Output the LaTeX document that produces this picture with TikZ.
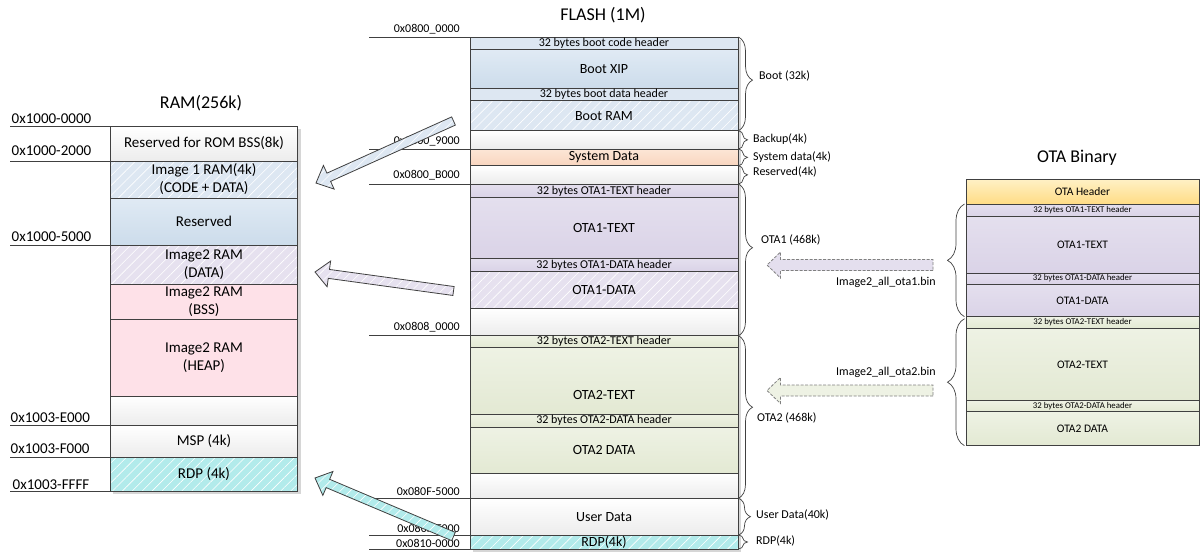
\documentclass[tikz,border=0pt]{standalone}
\usepackage{fontspec}
\setmainfont{Carlito}
\usetikzlibrary{calc,patterns.meta,decorations.pathreplacing}

\definecolor{edge}{HTML}{404040}
\definecolor{grayB}{HTML}{ECECEC}
\definecolor{blueL}{HTML}{DDE7F2}
\definecolor{blueA}{HTML}{E0EAF4}
\definecolor{blueB}{HTML}{CCDCEB}
\definecolor{lavA}{HTML}{E4DFEE}
\definecolor{lavB}{HTML}{DAD3E7}
\definecolor{lavL}{HTML}{E6E1EF}
\definecolor{greA}{HTML}{EEF2E4}
\definecolor{greB}{HTML}{E3E9D3}
\definecolor{pinkF}{HTML}{FEE1E8}
\definecolor{cyanF}{HTML}{B2EBEB}
\definecolor{peachA}{HTML}{FCE6D6}
\definecolor{peachB}{HTML}{F9D5BF}
\definecolor{yelA}{HTML}{FFF1C6}
\definecolor{yelB}{HTML}{FFDC85}

% one memory cell: name, x, y (top), width, height, fill style, text
\newcommand\cell[7]{\node[cell,#6,minimum width=#4pt,minimum height=#5pt] (#1) at (#2,#3) {#7};}
% block arrow: style, tail, tip, half shaft width, half head width, head length
\newcommand\blockarrow[6]{%
  \coordinate (#2-hb) at ($(#3)!#6!(#2)$);
  \path[#1] ($(#2)!#4!90:(#3)$) -- ($(#2-hb)!#4!90:(#3)$) -- ($(#2-hb)!#5!90:(#3)$)
    -- (#3) -- ($(#2-hb)!#5!-90:(#3)$) -- ($(#2-hb)!#4!-90:(#3)$)
    -- ($(#2)!#4!-90:(#3)$) -- cycle;}

\tikzset{
  cell/.style={draw=edge, line width=0.8pt, inner sep=0pt, outer sep=0pt,
    anchor=north west, align=center},
  plain/.style={top color=white, bottom color=grayB},
  blueg/.style={top color=blueA, bottom color=blueB},
  bluef/.style={fill=blueL},
  lavg/.style={top color=lavA, bottom color=lavB},
  greg/.style={top color=greA, bottom color=greB},
  pinkf/.style={fill=pinkF},
  peachg/.style={top color=peachA, bottom color=peachB},
  yelg/.style={top color=yelA, bottom color=yelB},
  hatch/.style={preaction={fill=#1},
    pattern={Lines[angle=45,distance=7pt,line width=0.6pt]}, pattern color=white},
  ramfont/.style={font=\fontsize{15}{18}\selectfont},
  flfont/.style={font=\fontsize{14}{17}\selectfont},
  hdrfont/.style={font=\fontsize{12}{14}\selectfont},
  binfont/.style={font=\fontsize{11.5}{14}\selectfont},
  smallfont/.style={font=\fontsize{8.8}{10}\selectfont},
  titlefont/.style={font=\fontsize{18}{22}\selectfont},
  addrline/.style={draw=edge, line width=0.8pt},
  ramaddr/.style={font=\fontsize{15}{18}\selectfont, anchor=base west, inner sep=0pt},
  fladdr/.style={font=\fontsize{12}{14}\selectfont, anchor=base east, inner sep=0pt},
  bracedeco/.style={draw=edge, line width=0.7pt, decorate,
    decoration={brace, amplitude=#1, raise=0.5pt}},
  tipat/.style={decoration={aspect=#1}},
  bracelbl/.style={font=\fontsize{12}{14}\selectfont, anchor=west, inner sep=0pt},
  shadowbox/.style={fill=black, opacity=0.16},
  fatarrow/.style={draw=edge, line width=0.8pt, line join=miter},
  dasharrow/.style={draw=black!50, line width=0.8pt, dash pattern=on 3pt off 1.5pt},
}

\begin{document}
\begin{tikzpicture}[x=1pt,y=-1pt]
\useasboundingbox (0,0) rectangle (1200,554);

% ---------------- RAM ----------------
\node[titlefont] (ramtitle) at (201,103) {RAM(256k)};
\fill[shadowbox] (113,128.5) rectangle (300.5,494);
\cell{ramA}{110.5}{126}{187}{35}{plain,ramfont}{Reserved for ROM BSS(8k)}
\cell{ramB}{110.5}{161}{187}{37}{hatch=blueL,ramfont}{Image 1 RAM(4k)\\(CODE + DATA)}
\cell{ramC}{110.5}{198}{187}{47}{blueg,ramfont}{Reserved}
\cell{ramD}{110.5}{245}{187}{39}{hatch=lavL,ramfont}{Image2 RAM\\(DATA)}
\cell{ramE}{110.5}{284}{187}{35}{pinkf,ramfont}{Image2 RAM\\(BSS)}
\cell{ramF}{110.5}{319}{187}{77}{pinkf,ramfont}{Image2 RAM\\(HEAP)}
\cell{ramG}{110.5}{396}{187}{29}{plain,ramfont}{}
\cell{ramH}{110.5}{425}{187}{32}{plain,ramfont}{MSP (4k)}
\cell{ramI}{110.5}{457}{187}{34}{hatch=cyanF,ramfont}{RDP (4k)}

\draw[addrline] (ramA.north west) -- ++(-100.5,0);
\draw[addrline] (ramB.north west) -- ++(-100.5,0);
\draw[addrline] (ramD.north west) -- ++(-100.5,0);
\draw[addrline] (ramH.north west) -- ++(-100.5,0);
\draw[addrline] (ramI.north west) -- ++(-100.5,0);
\draw[addrline] (ramI.south west) -- ++(-100.5,0);
\node[ramaddr] (ra0) at (11.5,123) {0x1000-0000};
\node[ramaddr] (ra1) at (11.5,155.5) {0x1000-2000};
\node[ramaddr] (ra2) at (11.5,241) {0x1000-5000};
\node[ramaddr] (ra3) at (10.5,422.5) {0x1003-E000};
\node[ramaddr] (ra4) at (10.5,453.5) {0x1003-F000};
\node[ramaddr] (ra5) at (12.5,489) {0x1003-FFFF};

% ---------------- FLASH ----------------
\node[titlefont] (fltitle) at (603,15) {FLASH (1M)};
\fill[shadowbox] (472.5,39.5) rectangle (740.5,551.5);
\cell{fl1}{470}{37}{268}{12.3}{bluef,hdrfont}{32 bytes boot code header}
\cell{fl2}{470}{49.3}{268}{39}{blueg,flfont}{Boot XIP}
\cell{fl3}{470}{88.3}{268}{12.4}{bluef,hdrfont}{32 bytes boot data header}
\cell{fl4}{470}{100.7}{268}{30}{hatch=blueL,flfont}{Boot RAM}
\cell{fl5}{470}{130.7}{268}{18.3}{plain}{}
\cell{fl6}{470}{149}{268}{16.7}{peachg,flfont}{System Data}
\cell{fl7}{470}{165.7}{268}{18.3}{plain}{}
\cell{fl8}{470}{184}{268}{13.7}{lavg,hdrfont}{32 bytes OTA1-TEXT header}
\cell{fl9}{470}{197.7}{268}{61}{lavg,flfont}{OTA1-TEXT}
\cell{fl10}{470}{258.7}{268}{12.3}{lavg,hdrfont}{32 bytes OTA1-DATA header}
\cell{fl11}{470}{271}{268}{37.3}{hatch=lavL,flfont}{OTA1-DATA}
\cell{fl12}{470}{308.3}{268}{27.4}{plain}{}
\cell{fl13}{470}{335.7}{268}{12}{greg,hdrfont}{32 bytes OTA2-TEXT header}
\cell{fl14}{470}{347.7}{268}{66.3}{greg}{}
\node[flfont] (fl14t) at (604,395) {OTA2-TEXT};
\cell{fl15}{470}{414}{268}{13}{greg,hdrfont}{32 bytes OTA2-DATA header}
\cell{fl16}{470}{427}{268}{46.3}{greg,flfont}{OTA2 DATA}
\cell{fl17}{470}{473.3}{268}{25}{plain}{}
\cell{fl18}{470}{498.3}{268}{36.7}{plain,flfont}{User Data}
\cell{fl19}{470}{535}{268}{14}{hatch=cyanF,flfont}{RDP(4k)}

\draw[addrline] (fl1.north west) -- ++(-101,0);
\draw[addrline] (fl6.north west) -- ++(-101,0);
\draw[addrline] (fl8.north west) -- ++(-101,0);
\draw[addrline] (fl13.north west) -- ++(-101,0);
\draw[addrline] (fl18.north west) -- ++(-101,0);
\draw[addrline] (fl19.north west) -- ++(-101,0);
\draw[addrline] (fl19.south west) -- ++(-101,0);
\node[fladdr] (fa0) at (460,32.5) {0x0800\_0000};
\node[fladdr] (fa1) at (460,144) {0x0800\_9000};
\node[fladdr] (fa2) at (460,178.5) {0x0800\_B000};
\node[fladdr] (fa3) at (460,330.5) {0x0808\_0000};
\node[fladdr] (fa4) at (460,495.5) {0x080F-5000};
\node[fladdr] (fa5) at (460,532) {0x080F-F000};
\node[fladdr] (fa6) at (460,547) {0x0810-0000};

% region braces
\draw[bracedeco=14pt, tipat=0.46] (fl1.north east) -- (fl4.south east);
\draw[bracedeco=9pt] (fl5.north east) -- (fl5.south east);
\draw[bracedeco=9pt] (fl6.north east) -- (fl6.south east);
\draw[bracedeco=9pt] (fl7.north east) -- (fl7.south east);
\draw[bracedeco=14pt, tipat=0.42] (fl8.north east) -- (fl12.south east);
\draw[bracedeco=14pt, tipat=0.44] (fl13.north east) -- (fl17.south east);
\draw[bracedeco=12pt] (fl18.north east) -- (fl18.south east);
\draw[bracedeco=9pt] (fl19.north east) -- (fl19.south east);
\node[bracelbl] (lb0) at (759,76) {Boot (32k)};
\node[bracelbl] (lb1) at (753,139.5) {Backup(4k)};
\node[bracelbl] (lb2) at (753,157) {System data(4k)};
\node[bracelbl] (lb3) at (753,172) {Reserved(4k)};
\node[bracelbl] (lb4) at (761,240) {OTA1 (468k)};
\node[bracelbl] (lb5) at (757,418) {OTA2 (468k)};
\node[bracelbl] (lb6) at (756,515) {User Data(40k)};
\node[bracelbl] (lb7) at (756,541) {RDP(4k)};

% ---------------- OTA binary ----------------
\node[titlefont] (obtitle) at (1077,158) {OTA Binary};
\cell{ob1}{966}{179}{233}{25}{yelg,binfont}{OTA Header}
\cell{ob2}{966}{204}{233}{12.7}{lavg,smallfont}{32 bytes OTA1-TEXT header}
\cell{ob3}{966}{216.7}{233}{56.6}{lavg,binfont}{OTA1-TEXT}
\cell{ob4}{966}{273.3}{233}{10.7}{lavg,smallfont}{32 bytes OTA1-DATA header}
\cell{ob5}{966}{284}{233}{32.7}{lavg,binfont}{OTA1-DATA}
\cell{ob6}{966}{316.7}{233}{11.6}{greg,smallfont}{32 bytes OTA2-TEXT header}
\cell{ob7}{966}{328.3}{233}{72.4}{greg,binfont}{OTA2-TEXT}
\cell{ob8}{966}{400.7}{233}{11}{greg,smallfont}{32 bytes OTA2-DATA header}
\cell{ob9}{966}{411.7}{233}{34}{greg,binfont}{OTA2 DATA}

\draw[bracedeco=17pt] ($(ob5.south west)+(-1,0)$) -- ($(ob2.north west)+(-1,0)$);
\draw[bracedeco=17pt] ($(ob9.south west)+(-1,0)$) -- ($(ob6.north west)+(-1,2)$);

% image files copied into the OTA slots
\coordinate (d1s) at (933,265);
\coordinate (d1e) at (767,265);
\coordinate (d2s) at (933,390.5);
\coordinate (d2e) at (767,390.5);
\blockarrow{dasharrow,fill=lavA}{d1s}{d1e}{5.5pt}{13pt}{13.5pt}
\blockarrow{dasharrow,fill=greA}{d2s}{d2e}{5.5pt}{13pt}{13.5pt}
\node[hdrfont, anchor=east, inner sep=0pt] (bin1) at (936,282) {Image2\_all\_ota1.bin};
\node[hdrfont, anchor=east, inner sep=0pt] (bin2) at (936,372) {Image2\_all\_ota2.bin};

% loading from flash into RAM
\coordinate (a1s) at (453.5,121);
\coordinate (a1e) at (316,183);
\coordinate (a2s) at (453.5,291);
\coordinate (a2e) at (315,272);
\coordinate (a3s) at (453.5,536.5);
\coordinate (a3e) at (315,478);
\blockarrow{fatarrow,hatch=blueL}{a1s}{a1e}{4.5pt}{13pt}{14pt}
\blockarrow{fatarrow,hatch=lavL}{a2s}{a2e}{4.5pt}{13pt}{14pt}
\blockarrow{fatarrow,hatch=cyanF}{a3s}{a3e}{4.5pt}{13pt}{14pt}
\end{tikzpicture}
\end{document}
